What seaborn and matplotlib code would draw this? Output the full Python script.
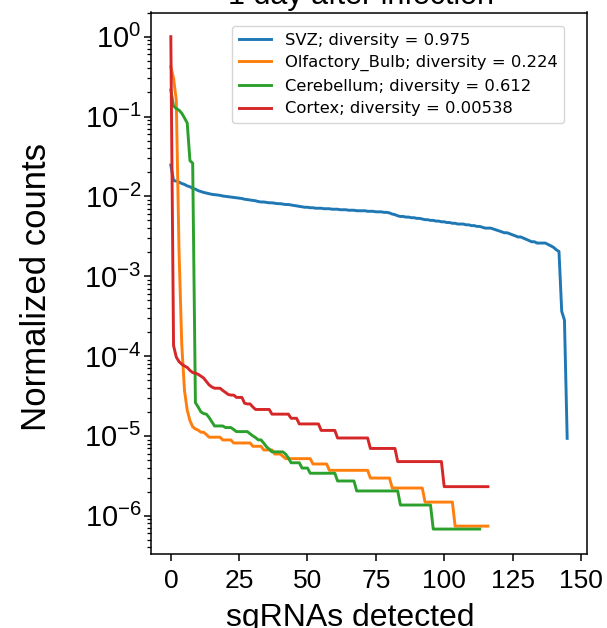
import numpy as np
import pandas as pd
import seaborn as sns
import matplotlib
matplotlib.use("Agg")
import matplotlib.pyplot as plt

# normalized sgRNA counts, ranked
svz = [0.0247, 0.0158, 0.0155, 0.0151, 0.0145, 0.0141, 0.0135, 0.0132, 0.0126, 0.0123,
       0.0118, 0.0115, 0.0112, 0.0110, 0.0108, 0.0106, 0.0105, 0.0104, 0.0103, 0.0101,
       0.0100, 0.0099, 0.0098, 0.0097, 0.0096, 0.0095, 0.0094, 0.0092, 0.0091, 0.0090,
       0.0089, 0.0088, 0.0086, 0.0085, 0.0085, 0.0084, 0.0083, 0.0083, 0.0082, 0.0081,
       0.0081, 0.0080, 0.0079, 0.0079, 0.0078, 0.0077, 0.0076, 0.0075, 0.0074, 0.0073,
       0.0073, 0.0072, 0.0072, 0.0071, 0.0071, 0.0071, 0.0070, 0.0070, 0.0070, 0.0069,
       0.0069, 0.0069, 0.0068, 0.0068, 0.0068, 0.0067, 0.0067, 0.0067, 0.0066, 0.0066,
       0.0066, 0.0066, 0.0065, 0.0065, 0.0065, 0.0064, 0.0064, 0.0064, 0.0063, 0.0063,
       0.0062, 0.0060, 0.0059, 0.0057, 0.0056, 0.0056, 0.0055, 0.0055, 0.0054, 0.0054,
       0.0053, 0.0053, 0.0052, 0.0051, 0.0051, 0.0050, 0.0050, 0.0049, 0.0049, 0.0048,
       0.0048, 0.0047, 0.0047, 0.0046, 0.0046, 0.0045, 0.0045, 0.0045, 0.0044, 0.0044,
       0.0043, 0.0043, 0.0042, 0.0042, 0.0041, 0.0040, 0.0040, 0.0040, 0.0039, 0.0038,
       0.0037, 0.0036, 0.0035, 0.0035, 0.0034, 0.0033, 0.0032, 0.0031, 0.0031, 0.0030,
       0.0029, 0.0028, 0.0027, 0.0027, 0.0026, 0.0026, 0.0026, 0.0026, 0.0025, 0.0024,
       0.0023, 0.00214, 0.00204, 0.000363, 0.000282, 0.0000093]

olfactory_bulb = [0.42, 0.30, 0.16, 2.1e-3, 1.4e-4, 3.7e-5, 2.1e-5, 1.55e-5, 1.3e-5, 1.22e-5,
                  1.18e-5, 1.11e-5, 1.11e-5, 1.04e-5,
                  9.62e-6, 9.62e-6, 9.62e-6, 9.62e-6, 9.62e-6,
                  8.88e-6, 8.88e-6, 8.88e-6, 8.88e-6,
                  8.14e-6, 8.14e-6, 8.14e-6, 8.14e-6, 8.14e-6, 8.14e-6, 8.14e-6,
                  7.4e-6, 7.4e-6, 7.4e-6, 7.4e-6,
                  6.66e-6, 6.66e-6, 6.66e-6, 6.66e-6,
                  5.92e-6, 5.92e-6, 5.92e-6, 5.55e-6,
                  5.18e-6, 5.18e-6, 5.18e-6, 5.18e-6, 5.18e-6, 5.18e-6, 5.18e-6, 5.18e-6, 5.18e-6, 5.18e-6,
                  4.44e-6, 4.44e-6, 4.44e-6, 4.44e-6, 4.44e-6, 4.44e-6,
                  3.7e-6, 3.7e-6, 3.7e-6, 3.7e-6, 3.7e-6, 3.7e-6, 3.7e-6, 3.7e-6, 3.7e-6, 3.7e-6,
                  3.7e-6, 3.7e-6, 3.7e-6, 3.7e-6, 3.7e-6,
                  2.96e-6, 2.96e-6, 2.96e-6, 2.96e-6, 2.96e-6, 2.96e-6, 2.96e-6, 2.96e-6,
                  2.22e-6, 2.22e-6, 2.22e-6, 2.22e-6, 2.22e-6, 2.22e-6, 2.22e-6, 2.22e-6, 2.22e-6, 2.22e-6,
                  2.22e-6, 2.22e-6,
                  1.48e-6, 1.48e-6, 1.48e-6, 1.48e-6, 1.48e-6, 1.48e-6, 1.48e-6, 1.48e-6, 1.48e-6, 1.48e-6,
                  1.48e-6,
                  7.4e-7, 7.4e-7, 7.4e-7, 7.4e-7, 7.4e-7, 7.4e-7, 7.4e-7, 7.4e-7, 7.4e-7, 7.4e-7,
                  7.4e-7, 7.4e-7, 7.4e-7]

cerebellum = [0.215, 0.135, 0.126, 0.12, 0.11, 0.096, 0.083, 0.028, 0.026, 2.6e-5,
              2.3e-5, 2.0e-5, 1.9e-5, 1.87e-5, 1.7e-5, 1.5e-5,
              1.33e-5, 1.33e-5, 1.33e-5, 1.33e-5,
              1.27e-5, 1.27e-5, 1.27e-5, 1.2e-5,
              1.13e-5, 1.13e-5, 1.13e-5, 1.13e-5, 1.13e-5,
              1.06e-5, 1.0e-5, 9.5e-6, 8.9e-6, 8.9e-6, 8.1e-6, 7.3e-6, 6.8e-6,
              6.3e-6, 6.3e-6, 6.3e-6, 6.3e-6, 6.3e-6, 5.9e-6, 5.3e-6,
              4.6e-6, 4.6e-6, 4.6e-6, 4.6e-6,
              3.95e-6, 3.95e-6, 3.95e-6,
              3.4e-6, 3.4e-6, 3.4e-6, 3.4e-6, 3.4e-6, 3.4e-6, 3.4e-6, 3.4e-6, 3.4e-6, 3.4e-6,
              2.72e-6, 2.72e-6, 2.72e-6, 2.72e-6, 2.72e-6, 2.72e-6, 2.72e-6,
              2.04e-6, 2.04e-6, 2.04e-6, 2.04e-6, 2.04e-6, 2.04e-6, 2.04e-6, 2.04e-6, 2.04e-6, 2.04e-6,
              2.04e-6, 2.04e-6, 2.04e-6, 2.04e-6, 2.04e-6, 2.04e-6,
              1.36e-6, 1.36e-6, 1.36e-6, 1.36e-6, 1.36e-6, 1.36e-6, 1.36e-6, 1.36e-6, 1.36e-6, 1.36e-6,
              1.36e-6, 1.36e-6,
              6.8e-7, 6.8e-7, 6.8e-7, 6.8e-7, 6.8e-7, 6.8e-7, 6.8e-7, 6.8e-7, 6.8e-7, 6.8e-7,
              6.8e-7, 6.8e-7, 6.8e-7, 6.8e-7, 6.8e-7, 6.8e-7, 6.8e-7, 6.8e-7]

cortex = [1.0, 1.35e-4, 9.7e-5, 8.5e-5, 7.9e-5, 7.5e-5, 7.2e-5, 6.6e-5, 6.2e-5, 6.1e-5,
          5.9e-5, 5.6e-5, 5.3e-5, 4.8e-5, 4.35e-5, 4.1e-5, 3.95e-5, 3.95e-5, 3.95e-5, 3.7e-5,
          3.5e-5, 3.3e-5, 3.24e-5, 3.24e-5, 3.03e-5, 3.03e-5, 3.03e-5, 2.56e-5, 2.51e-5, 2.51e-5,
          2.3e-5,
          2.14e-5, 2.14e-5, 2.14e-5, 2.14e-5, 2.14e-5, 2.14e-5,
          1.87e-5, 1.87e-5, 1.87e-5, 1.87e-5, 1.87e-5, 1.87e-5, 1.87e-5,
          1.66e-5, 1.66e-5, 1.66e-5,
          1.41e-5, 1.41e-5, 1.41e-5, 1.41e-5, 1.41e-5, 1.41e-5, 1.41e-5, 1.41e-5,
          1.17e-5, 1.17e-5, 1.17e-5, 1.17e-5, 1.17e-5, 1.17e-5,
          9.4e-6, 9.4e-6, 9.4e-6, 9.4e-6, 9.4e-6, 9.4e-6, 9.4e-6, 9.4e-6, 9.4e-6, 9.4e-6,
          9.4e-6, 9.4e-6,
          6.95e-6, 6.95e-6, 6.95e-6, 6.95e-6, 6.95e-6, 6.95e-6, 6.95e-6, 6.95e-6, 6.95e-6, 6.95e-6,
          4.76e-6, 4.76e-6, 4.76e-6, 4.76e-6, 4.76e-6, 4.76e-6, 4.76e-6, 4.76e-6, 4.76e-6, 4.76e-6,
          4.76e-6, 4.76e-6, 4.76e-6, 4.76e-6, 4.76e-6, 4.76e-6, 4.76e-6,
          2.31e-6, 2.31e-6, 2.31e-6, 2.31e-6, 2.31e-6, 2.31e-6, 2.31e-6, 2.31e-6, 2.31e-6, 2.31e-6,
          2.31e-6, 2.31e-6, 2.31e-6, 2.31e-6, 2.31e-6, 2.31e-6, 2.31e-6]

tissues = ["SVZ", "Olfactory_Bulb", "Cerebellum", "Cortex"]
diversity = ["0.975", "0.224", "0.612", "0.00538"]
series = [svz, olfactory_bulb, cerebellum, cortex]
colors = ["#1f77b4", "#ff7f0e", "#2ca02c", "#d62728"]

plt.rcParams["font.family"] = ["Liberation Sans", "DejaVu Sans"]
plt.rcParams["mathtext.fontset"] = "custom"
plt.rcParams["mathtext.rm"] = "Liberation Sans"
plt.rcParams["mathtext.it"] = "Liberation Sans:italic"
plt.rcParams["axes.unicode_minus"] = False

fig = plt.figure(figsize=(6.07, 6.28), dpi=100)
ax = fig.add_axes([151 / 607, 1 - 554 / 628, 436 / 607, 541.5 / 628])

for name, div, vals, col in zip(tissues, diversity, series, colors):
    df = pd.DataFrame({"rank": np.arange(len(vals)), "count": vals})
    sns.lineplot(data=df, x="rank", y="count", color=col, lw=2.1,
                 label=f"{name}; diversity = {div}", ax=ax)

ax.set_yscale("log")
ax.set_ylim(10 ** -6.48, 10 ** 0.303)
ax.set_xticks([0, 25, 50, 75, 100, 125, 150])

ax.set_title("1 day after infection", fontsize=22, x=0.482)
ax.set_xlabel("sgRNAs detected", fontsize=23)
ax.set_ylabel("Normalized counts", fontsize=25)
ax.xaxis.set_label_coords(0.4576, -0.0905)
ax.yaxis.set_label_coords(-0.225, 0.493)
ax.tick_params(axis="x", labelsize=19, pad=6)
ax.tick_params(axis="y", labelsize=21, pad=2)
ax.tick_params(which="major", length=4.8, width=1.1)
ax.tick_params(which="minor", length=2.6, width=0.9)
for sp in ax.spines.values():
    sp.set_linewidth(1.1)

ax.legend(loc="upper right", bbox_to_anchor=(0.947, 0.975), borderaxespad=0,
          labelspacing=0.46, prop={"family": "DejaVu Sans", "size": 11.8})

fig.savefig("out.png", dpi=100)
